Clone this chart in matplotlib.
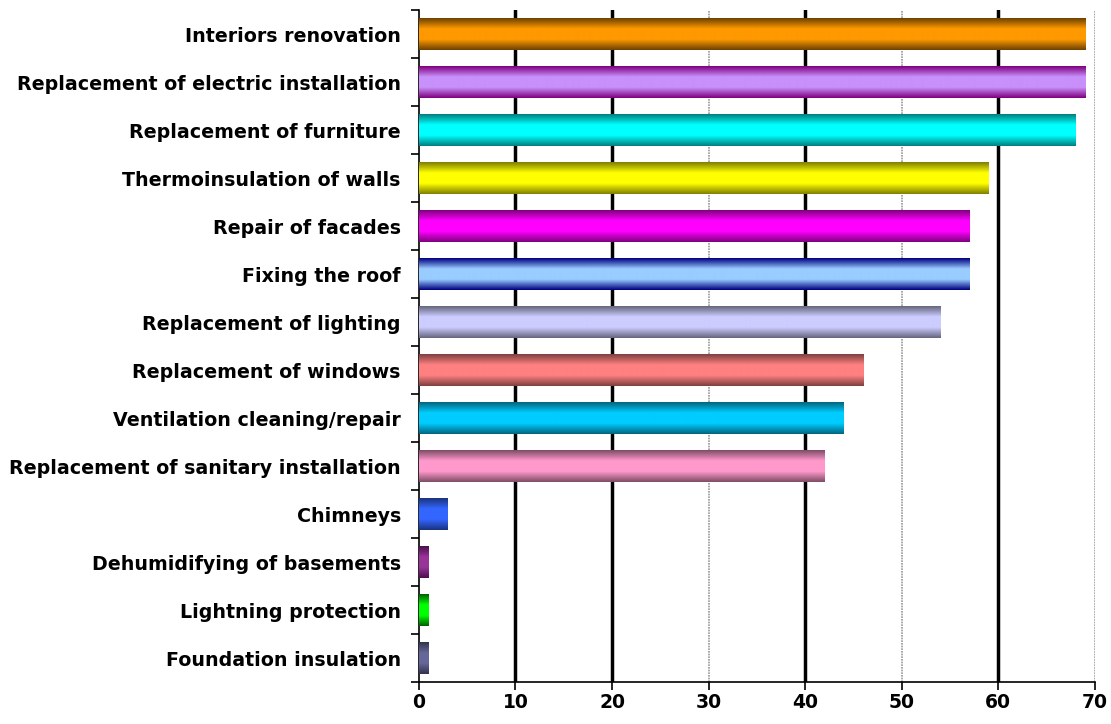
import matplotlib
matplotlib.use("Agg")
import matplotlib.pyplot as plt
import numpy as np
from matplotlib.colors import LinearSegmentedColormap, to_rgb

plt.rcParams['font.family'] = ['DejaVu Sans']

# Datos
categories = [
    "Interiors renovation",
    "Replacement of electric installation",
    "Replacement of furniture",
    "Thermoinsulation of walls",
    "Repair of facades",
    "Fixing the roof",
    "Replacement of lighting",
    "Replacement of windows",
    "Ventilation cleaning/repair",
    "Replacement of sanitary installation",
    "Chimneys",
    "Dehumidifying of basements",
    "Lightning protection",
    "Foundation insulation",
]
values = [69, 69, 68, 59, 57, 57, 54, 46, 44, 42, 3, 1, 1, 1]
x_ticks = [0, 10, 20, 30, 40, 50, 60, 70]

# Colores (centro brillante, borde oscuro)
center_colors = ["#FF9900", "#C890FA", "#00FFFF", "#FFFF00", "#FF00FF", "#99CCFF",
                 "#CCCCFF", "#FF8080", "#00CCFF", "#FF99CC", "#3366FF", "#993399",
                 "#00FF00", "#666699"]
edge_colors = ["#6E4200", "#800080", "#008080", "#808000", "#800080", "#000080",
               "#666680", "#804040", "#006680", "#804C66", "#1A3380", "#4C104C",
               "#006000", "#33334C"]

fig = plt.figure(figsize=(11.11, 7.24), dpi=100)
ax = fig.add_axes([0.377, 0.058, 0.6085, 0.928])

y = np.arange(len(categories))
bars = ax.barh(y, values, height=0.65, color="none", zorder=3)

# Degradado vertical de cada barra
grad = np.linspace(0, 1, 64).reshape(-1, 1)
for patch, c, e in zip(bars, center_colors, edge_colors):
    cmap = LinearSegmentedColormap.from_list("g", [to_rgb(e), to_rgb(c), to_rgb(c), to_rgb(e)])
    x0, y0 = patch.get_x(), patch.get_y()
    w, h = patch.get_width(), patch.get_height()
    ax.imshow(grad, cmap=cmap, aspect="auto", extent=(x0, x0 + w, y0 + h, y0),
              zorder=3, interpolation="bilinear")

# Líneas de la cuadrícula
for xv in [10, 20, 40, 60]:
    ax.axvline(xv, color="black", lw=2.5, zorder=1)
for xv in [30, 50, 70]:
    ax.axvline(xv, color="#999999", lw=1.2, ls=(0, (1, 0.6)), zorder=1)

ax.set_xlim(0, 70)
ax.set_ylim(len(categories) - 0.5, -0.5)

ax.set_xticks(x_ticks)
ax.set_xticklabels([str(v) for v in x_ticks], fontsize=13.5, fontweight="bold")
ax.set_yticks(y)
ax.set_yticklabels(categories, fontsize=13.7, fontweight="bold")
ax.set_yticks(np.arange(-0.5, len(categories), 1), minor=True)
ax.tick_params(axis="y", which="major", length=0, pad=13)
ax.tick_params(axis="y", which="minor", length=6, width=1.2, direction="out")
ax.tick_params(axis="x", length=6, width=1.2, direction="out", pad=2)

ax.spines["top"].set_visible(False)
ax.spines["right"].set_visible(False)
ax.spines["left"].set_linewidth(1.2)
ax.spines["bottom"].set_linewidth(1.2)

fig.savefig("out.png", dpi=100)
